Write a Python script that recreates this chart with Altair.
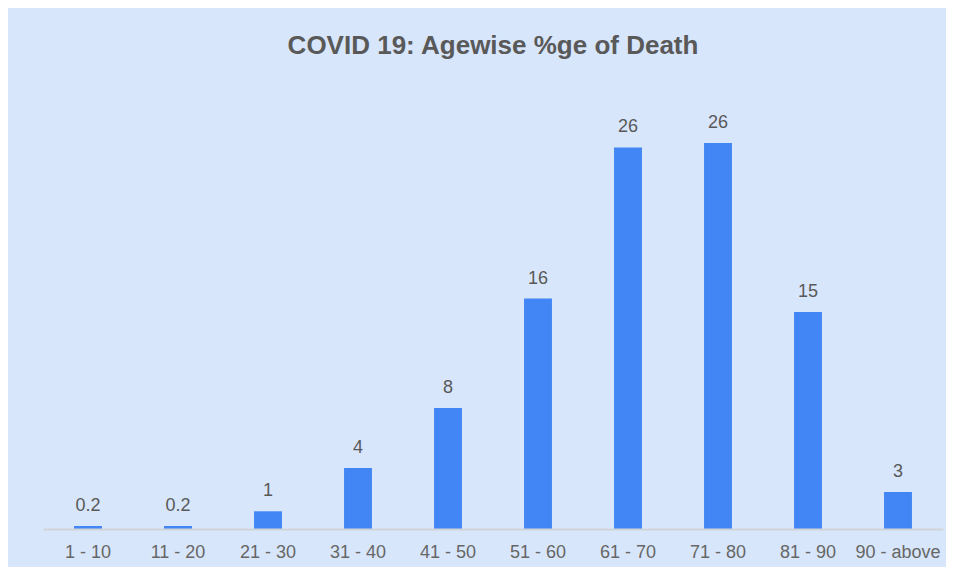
import altair as alt
import pandas as pd

age_groups = ["1 - 10", "11 - 20", "21 - 30", "31 - 40", "41 - 50",
              "51 - 60", "61 - 70", "71 - 80", "81 - 90", "90 - above"]
death_pct = [0.2, 0.2, 1.23, 4.24, 8.4, 16.0, 26.5, 26.8, 15.07, 2.57]
label_text = ["0.2", "0.2", "1", "4", "8", "16", "26", "26", "15", "3"]

df = pd.DataFrame({"age": age_groups, "pct": death_pct, "label": label_text})

x_enc = alt.X("age:N", sort=age_groups, title=None,
              scale=alt.Scale(paddingInner=0.69, paddingOuter=0.345),
              axis=alt.Axis(labelAngle=0, ticks=False, domainColor="#cfd3d9",
                            domainWidth=2, labelFont="Liberation Sans",
                            labelFontSize=18, labelColor="#666666",
                            labelPadding=14, grid=False, zindex=1))
y_enc = alt.Y("pct:Q", title=None, scale=alt.Scale(domain=[0, 30], nice=False),
              axis=None)

bars = alt.Chart(df).mark_bar(color="#4285f4").encode(x=x_enc, y=y_enc)
labels = alt.Chart(df).mark_text(
    font="Liberation Sans", fontSize=18, color="#595959",
    baseline="alphabetic", dy=-15
).encode(x=alt.X("age:N", sort=age_groups), y="pct:Q", text="label:N")

chart = alt.layer(bars, labels).properties(
    width=900, height=432,
    padding={"left": 35, "right": 3, "top": 25, "bottom": 6},
    background="#d8e6fb",
    title=alt.TitleParams("COVID 19: Agewise %ge of Death",
                          font="Liberation Sans", fontSize=26,
                          fontWeight="bold", color="#595959",
                          anchor="middle", offset=38),
).configure_view(stroke=None)

chart.save("out.html", embed_options={"renderer": "svg", "actions": False})
